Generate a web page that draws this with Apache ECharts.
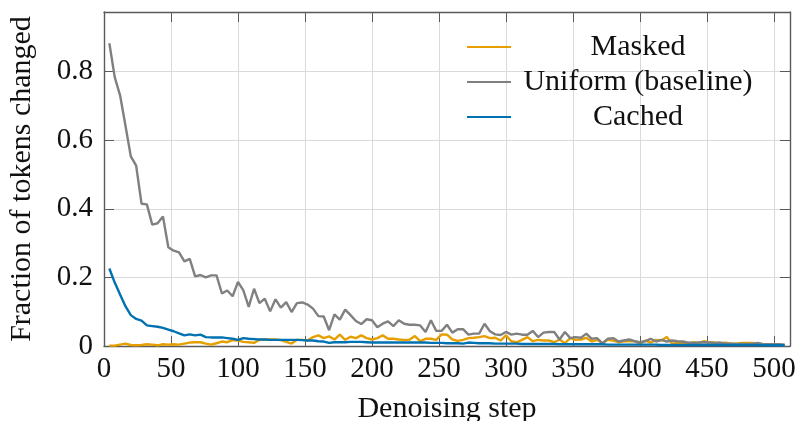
<!DOCTYPE html>
<html>
<head>
<meta charset="utf-8">
<script src="https://cdn.jsdelivr.net/npm/echarts@6/dist/echarts.min.js"></script>
<style>
  html, body { margin: 0; padding: 0; background: #ffffff; }
  #chart { width: 798px; height: 421px; }
</style>
</head>
<body>
<div id="chart"></div>
<script>
// Denoising steps (sampled every 4 steps)
const steps = [
  4, 8, 12, 16, 20, 24, 28, 32, 36, 40, 44, 48, 52, 56, 60, 64,
  68, 72, 76, 80, 84, 88, 92, 96, 100, 104, 108, 112, 116, 120, 124, 128,
  132, 136, 140, 144, 148, 152, 156, 160, 164, 168, 172, 176, 180, 184, 188, 192,
  196, 200, 204, 208, 212, 216, 220, 224, 228, 232, 236, 240, 244, 248, 252, 256,
  260, 264, 268, 272, 276, 280, 284, 288, 292, 296, 300, 304, 308, 312, 316, 320,
  324, 328, 332, 336, 340, 344, 348, 352, 356, 360, 364, 368, 372, 376, 380, 384,
  388, 392, 396, 400, 404, 408, 412, 416, 420, 424, 428, 432, 436, 440, 444, 448,
  452, 456, 460, 464, 468, 472, 476, 480, 484, 488, 492, 496, 500, 504, 508
];

// Fraction of tokens changed per step
const masked = [
  0.001, 0.001, 0.004, 0.007, 0.003, 0.002, 0.003, 0.005, 0.004, 0.002, 0.005, 0.004, 0.005, 0.004, 0.007, 0.010,
  0.011, 0.011, 0.007, 0.004, 0.008, 0.013, 0.011, 0.017, 0.016, 0.012, 0.011, 0.009, 0.018, 0.019, 0.019, 0.019,
  0.017, 0.012, 0.007, 0.018, 0.018, 0.016, 0.026, 0.031, 0.023, 0.028, 0.019, 0.033, 0.018, 0.027, 0.023, 0.031,
  0.023, 0.019, 0.023, 0.031, 0.021, 0.021, 0.019, 0.018, 0.018, 0.029, 0.014, 0.021, 0.021, 0.018, 0.034, 0.033,
  0.019, 0.015, 0.018, 0.023, 0.024, 0.026, 0.029, 0.023, 0.024, 0.016, 0.031, 0.014, 0.011, 0.018, 0.026, 0.014,
  0.018, 0.016, 0.016, 0.011, 0.019, 0.008, 0.023, 0.018, 0.019, 0.024, 0.013, 0.018, 0.008, 0.018, 0.016, 0.011,
  0.014, 0.014, 0.014, 0.007, 0.016, 0.010, 0.018, 0.016, 0.026, 0.007, 0.009, 0.010, 0.007, 0.011, 0.009, 0.014,
  0.010, 0.010, 0.008, 0.010, 0.007, 0.007, 0.009, 0.009, 0.009, 0.007, 0.005, 0.005, 0.004, 0.004, 0.003
];

const uniform = [
  0.883, 0.784, 0.731, 0.643, 0.553, 0.526, 0.415, 0.413, 0.354, 0.358, 0.378, 0.288, 0.278, 0.273, 0.247, 0.254,
  0.203, 0.207, 0.200, 0.206, 0.206, 0.153, 0.162, 0.145, 0.187, 0.162, 0.114, 0.167, 0.125, 0.138, 0.101, 0.136,
  0.112, 0.128, 0.099, 0.125, 0.127, 0.121, 0.109, 0.087, 0.086, 0.046, 0.092, 0.077, 0.106, 0.090, 0.073, 0.064,
  0.078, 0.075, 0.055, 0.065, 0.072, 0.058, 0.075, 0.065, 0.062, 0.062, 0.060, 0.041, 0.075, 0.044, 0.044, 0.062,
  0.039, 0.049, 0.049, 0.033, 0.036, 0.036, 0.065, 0.043, 0.034, 0.032, 0.041, 0.033, 0.036, 0.033, 0.033, 0.044,
  0.026, 0.039, 0.041, 0.041, 0.019, 0.041, 0.023, 0.026, 0.024, 0.036, 0.021, 0.023, 0.008, 0.021, 0.023, 0.013,
  0.016, 0.019, 0.014, 0.011, 0.014, 0.021, 0.013, 0.018, 0.013, 0.016, 0.014, 0.013, 0.010, 0.009, 0.010, 0.011,
  0.010, 0.009, 0.010, 0.007, 0.007, 0.006, 0.006, 0.006, 0.006, 0.009, 0.005, 0.005, 0.005, 0.005, 0.004
];

const cached = [
  0.226, 0.185, 0.150, 0.116, 0.090, 0.079, 0.074, 0.060, 0.058, 0.056, 0.053, 0.048, 0.043, 0.037, 0.031, 0.034,
  0.031, 0.033, 0.026, 0.025, 0.025, 0.025, 0.023, 0.021, 0.018, 0.023, 0.021, 0.020, 0.019, 0.019, 0.018, 0.018,
  0.018, 0.018, 0.018, 0.018, 0.017, 0.016, 0.016, 0.014, 0.013, 0.009, 0.011, 0.011, 0.011, 0.012, 0.012, 0.012,
  0.011, 0.010, 0.010, 0.010, 0.010, 0.010, 0.010, 0.010, 0.010, 0.010, 0.010, 0.010, 0.009, 0.009, 0.009, 0.008,
  0.008, 0.008, 0.007, 0.010, 0.009, 0.008, 0.008, 0.008, 0.007, 0.007, 0.007, 0.007, 0.007, 0.006, 0.006, 0.006,
  0.006, 0.006, 0.006, 0.006, 0.005, 0.005, 0.005, 0.005, 0.005, 0.005, 0.005, 0.005, 0.005, 0.004, 0.004, 0.004,
  0.004, 0.004, 0.004, 0.004, 0.004, 0.004, 0.004, 0.003, 0.003, 0.003, 0.003, 0.003, 0.003, 0.003, 0.003, 0.003,
  0.003, 0.003, 0.003, 0.003, 0.003, 0.003, 0.003, 0.003, 0.003, 0.003, 0.002, 0.002, 0.002, 0.002, 0.002
];

const seriesNames = ['Masked', 'Uniform (baseline)', 'Cached'];
const seriesColors = ['#E69F00', '#808080', '#0072B2'];

const pairs = (ys) => steps.map((s, i) => [s, ys[i]]);

const FONT = '"Liberation Serif", "DejaVu Serif", serif';
const AXIS_COLOR = '#5a5a5a';
const GRID_COLOR = '#dadada';

const xCommon = {
  type: 'value', min: 0, max: 512, interval: 50,
  axisLine: { show: true, onZero: false, lineStyle: { color: AXIS_COLOR, width: 1.4 } },
  axisTick: { show: true, inside: true, length: 10, lineStyle: { color: AXIS_COLOR, width: 1 } }
};
const yCommon = {
  type: 'value', min: 0, max: 0.974, interval: 0.2,
  axisLine: { show: true, onZero: false, lineStyle: { color: AXIS_COLOR, width: 1.4 } },
  axisTick: { show: true, inside: true, length: 10, lineStyle: { color: AXIS_COLOR, width: 1 } }
};

const chart = echarts.init(document.getElementById('chart'), null, { renderer: 'canvas' });

chart.setOption({
  animation: false,
  backgroundColor: '#ffffff',
  grid: { left: 104, right: 8, top: 12, bottom: 75, containLabel: false, outerBoundsMode: 'none' },
  legend: {
    orient: 'vertical',
    left: 462,
    top: 27,
    itemWidth: 44,
    itemHeight: 14,
    itemGap: 5,
    icon: 'path://M0,6 L44,6 L44,8 L0,8 Z',
    data: seriesNames,
    formatter: (name) => '{t|' + name + '}',
    textStyle: {
      fontFamily: FONT,
      fontSize: 30,
      color: '#111',
      rich: { t: { width: 244, align: 'center', fontFamily: FONT, fontSize: 30, lineHeight: 31, color: '#111' } }
    }
  },
  xAxis: [
    Object.assign({}, xCommon, {
      position: 'bottom',
      name: 'Denoising step',
      nameLocation: 'middle',
      nameGap: 48,
      nameTextStyle: { fontFamily: FONT, fontSize: 30, color: '#111' },
      axisLabel: { show: true, margin: 9, showMaxLabel: false, fontFamily: FONT, fontSize: 29, color: '#111' },
      splitLine: { show: true, lineStyle: { color: GRID_COLOR, width: 1 } }
    }),
    Object.assign({}, xCommon, {
      position: 'top',
      axisLabel: { show: false },
      splitLine: { show: false }
    })
  ],
  yAxis: [
    Object.assign({}, yCommon, {
      position: 'left',
      name: 'Fraction of tokens changed',
      nameLocation: 'middle',
      nameGap: 67,
      nameTextStyle: { fontFamily: FONT, fontSize: 30, color: '#111' },
      axisLabel: {
        show: true, margin: 11, showMaxLabel: false, fontFamily: FONT, fontSize: 29, color: '#111',
        formatter: (v) => (v === 0 ? '0' : String(+v.toFixed(1)))
      },
      splitLine: { show: true, lineStyle: { color: GRID_COLOR, width: 1 } }
    }),
    Object.assign({}, yCommon, {
      position: 'right',
      axisLabel: { show: false },
      splitLine: { show: false }
    })
  ],
  series: [masked, uniform, cached].map((ys, i) => ({
    name: seriesNames[i],
    type: 'line',
    xAxisIndex: 0,
    yAxisIndex: 0,
    data: pairs(ys),
    symbol: 'none',
    clip: true,
    color: seriesColors[i],
    lineStyle: { color: seriesColors[i], width: 2.4 },
    itemStyle: { color: seriesColors[i] }
  }))
});
</script>
</body>
</html>
